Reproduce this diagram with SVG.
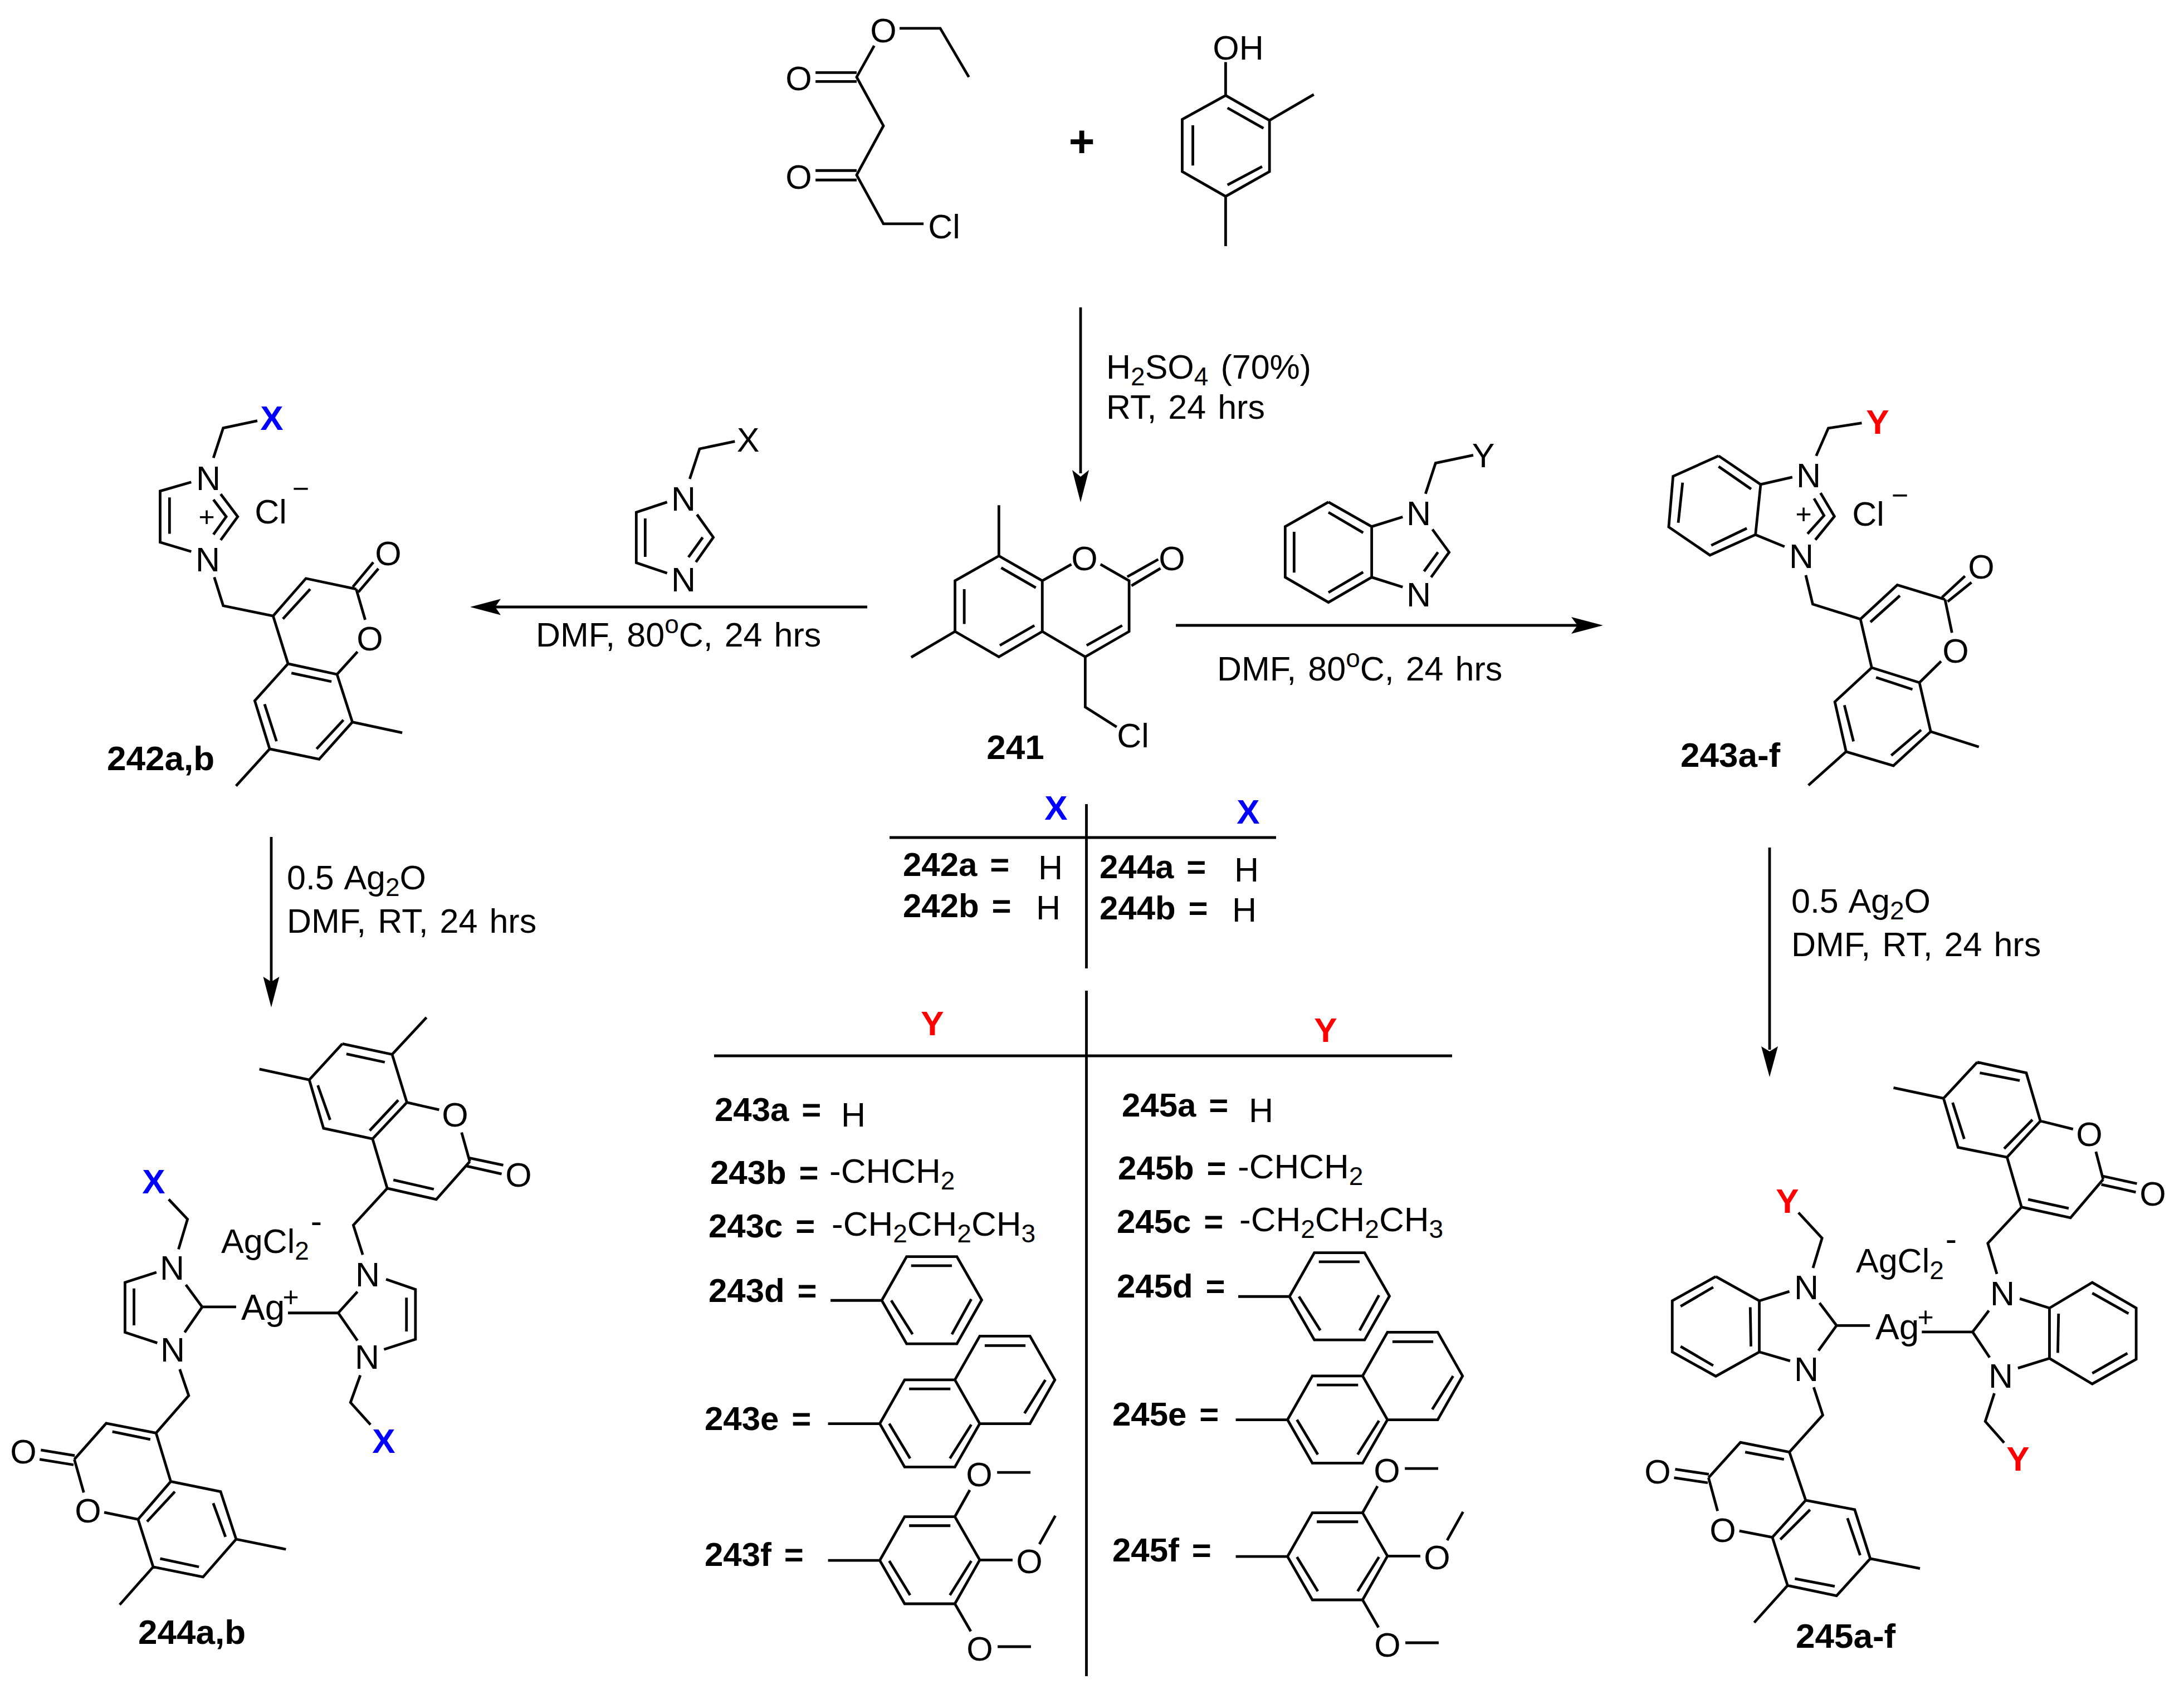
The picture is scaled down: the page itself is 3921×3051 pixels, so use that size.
<svg xmlns="http://www.w3.org/2000/svg" width="3921" height="3051" viewBox="0 0 3921 3051">
<style>
text{font-family:"Liberation Sans",Arial,sans-serif;font-size:61px;fill:#000}
.a{text-anchor:middle}
.t{word-spacing:4px}
.k{font-size:62px}
.l{font-weight:bold;font-size:62px}
.q{font-weight:bold;font-size:60px;word-spacing:6px}
.x{font-weight:bold;font-size:62px;text-anchor:middle;fill:#00f}
.y{font-weight:bold;font-size:62px;text-anchor:middle;fill:#f00}
.s{font-size:46px}
.c{font-size:50px;text-anchor:middle}
.m{font-size:52px;text-anchor:middle}
path{fill:none;stroke:#000;stroke-width:4.8;stroke-linejoin:miter;stroke-linecap:butt;vector-effect:non-scaling-stroke}
.h{fill:#000;stroke:none}
</style>
<rect width="3921" height="3051" fill="#fff"/>
<defs>
<g id="ph"><path transform="translate(1250,1780) scale(.8929,.8106)" d="M270 685H373L423 588H524L574 684L524 781H423L373 685M432 608H514M553 682L514 760M392 685L435 760"/></g>
<g id="na"><path transform="translate(1250,1780) scale(.8929,.8106)" d="M265 958H369L419 861H520L570 958L520 1054H419L369 958M520 861L570 764H671L721 861L671 958H570M428 881H511M553 960L510 1035M388 958L430 1035M580 785H662M702 861L660 935"/></g>
<g id="tm"><path transform="translate(1250,1780) scale(.8929,.8106)" d="M265 1261H369L419 1164H520L570 1260L520 1357H419L369 1261M428 1184H511M553 1262L510 1338M388 1262L430 1338M520 1164L550 1105M605 1066H672M570 1260H636M690 1225L722 1162M520 1357L552 1418M606 1452H673"/>
<text class="a" x="1758" y="2669">O</text><text class="a" x="1848" y="2825">O</text><text class="a" x="1759" y="2982">O</text></g>
</defs>

<g id="connectors">
<path d="M1940 552V850"/><polygon class="h" points="1940,902 1925,844 1940,856 1955,844"/>
<path d="M1557 1090H880"/><polygon class="h" points="844,1090 899,1075.5 889,1090 899,1104.500"/>
<path d="M2111 1123H2840"/><polygon class="h" points="2878,1123 2821,1108 2832,1123 2821,1138"/>
<path d="M487 1503V1770"/><polygon class="h" points="487,1809 472.500,1754 487,1763 501.500,1754"/>
<path d="M3177 1522V1885"/><polygon class="h" points="3177,1934 3162,1879 3177,1888 3192,1879"/>
</g>

<g id="reactant-ester">
<path transform="translate(1300,0) scale(.8291,.8929)" d="M380 57H468L530 155M325 92L287 155L345 253L287 352L345 450H432M198 146H287M198 164H287M198 343H287M198 362H287"/>
<text class="a" x="1586" y="76">O</text><text class="a" x="1434" y="162">O</text><text class="a" x="1434" y="339">O</text><text class="a" x="1695" y="428">Cl</text>
</g>
<g id="plus"><text class="a" x="1942" y="281" style="font-size:80px;font-weight:bold">+</text></g>
<g id="reactant-cresol">
<path transform="translate(1300,0) scale(.8291,.8929)" d="M1086 192L1181 242V345L1086 395L992 345V240L1086 192M1086 192V125M1181 242L1277 190M1086 395V495M1090 217L1168 258M1015 252V333M1090 372L1165 335"/>
<text class="a" x="2223" y="107">OH</text>
</g>
<g id="reagent-top">
<text class="t" x="1986" y="680">H<tspan class="s" dy="12">2</tspan><tspan dy="-12">SO</tspan><tspan class="s" dy="12">4</tspan><tspan dy="-12" dx="22">(70%)</tspan></text>
<text class="t" x="1986" y="752">RT, 24 hrs</text>
</g>

<g id="c241">
<path transform="translate(1300,0) scale(.8291,.8929)" d="M595 1118L689 1168V1270L595 1321L500 1270V1168L595 1118M595 1118V1016M500 1270L405 1322M600 1142L675 1182M520 1185V1255M597 1298L672 1258M689 1168L752 1135M815 1135L877 1168V1270L782 1321L689 1270M873 1160L940 1125M882 1178L945 1143M785 1298L862 1258M782 1321V1422L850 1462"/>
<text class="a" x="1947" y="1024">O</text><text class="a" x="2104" y="1024">O</text><text class="a" x="2034" y="1342">Cl</text>
<text class="a l" x="1833" y="1363" dx="-10">241</text>
</g>

<g id="reagent-imidazole">
<path transform="translate(1050,720) scale(.3333)" d="M565 420L618 258L808 218M443 545L277 600V872L443 928M325 633V840M604 612L692 735L598 868M635 735L558 842"/>
<text class="a" x="1343" y="811">X</text><text class="a" x="1227" y="917">N</text><text class="a" x="1227" y="1062">N</text>
<text class="t" x="962" y="1161">DMF, 80<tspan dy="-24" style="font-size:46px">o</tspan><tspan dy="24">C, 24 hrs</tspan></text>
</g>

<g id="reagent-benzimidazole">
<path transform="translate(2250,760) scale(.3333)" d="M928 380L982 215L1185 172M405 425L638 557V830L405 965L172 830V557L405 425M405 480L592 590M220 585V805M405 912L592 802M638 557L805 505M638 830L805 883M965 572L1055 695L958 830M995 695L920 798"/>
<text class="a" x="2663" y="839">Y</text><text class="a" x="2547" y="943">N</text><text class="a" x="2547" y="1089">N</text>
<text class="t" x="2185" y="1222">DMF, 80<tspan dy="-24" style="font-size:46px">o</tspan><tspan dy="24">C, 24 hrs</tspan></text>
</g>

<g id="c242">
<path transform="translate(100,650) scale(.7653)" d="M370 225L393 155L473 138M318 282L245 303V423L318 445M267 318V403M387 310L427 363L387 418M370 323L400 363L370 405M372 505L393 572L510 596L587 508L705 533M533 603L597 533M697 528L745 470M710 540L757 485M705 533L726 605M708 680L660 733M510 596L545 708L660 733L696 845L618 932L502 908L467 795L545 708M553 730L647 750M675 840L612 908M490 803L518 890M696 845L813 870M502 908L423 995"/>
<text class="x" x="488" y="772">X</text><text class="a" x="374" y="880">N</text><text class="a" x="373" y="1026">N</text>
<text class="c" x="371" y="945">+</text><text class="a" x="486" y="940">Cl</text><text class="m" x="540" y="895">−</text>
<text class="a" x="697" y="1015">O</text><text class="a" x="664" y="1168">O</text>
<text class="l" x="192" y="1383">242a,b</text>
<text class="t" x="515" y="1597">0.5 Ag<tspan class="s" dy="12">2</tspan><tspan dy="-12">O</tspan></text>
<text class="t" x="515" y="1675">DMF, RT, 24 hrs</text>
</g>

<g id="c243">
<path transform="translate(2700,700) scale(.7787,.7653)" d="M720 155L748 90L825 78M495 155L592 222L580 340L475 388L380 322L390 203L495 155M495 180L570 233M412 218L402 312M478 365L560 325M592 222L665 205M580 340L647 368M730 242L762 297L718 352M715 255L738 295L700 338M696 435L712 503L822 538L907 458L1017 492M845 545L913 483M1010 487L1063 437M1023 497L1078 452M1017 492L1033 570M1008 637L958 687M822 538L848 652L958 687L984 802L898 882L789 849L763 732L848 652M858 675L942 703M962 798L893 858M785 740L806 825M984 802L1095 838M789 849L702 928"/>
<text class="y" x="3371" y="779">Y</text><text class="a" x="3247" y="875">N</text><text class="a" x="3234" y="1020">N</text>
<text class="c" x="3238" y="940">+</text><text class="a" x="3354" y="944">Cl</text><text class="m" x="3411" y="907">−</text>
<text class="a" x="3557" y="1039">O</text><text class="a" x="3511" y="1190">O</text>
<text class="l" x="3017" y="1377">243a-f</text>
<text class="t" x="3216" y="1639">0.5 Ag<tspan class="s" dy="12">2</tspan><tspan dy="-12">O</tspan></text>
<text class="t" x="3216" y="1717">DMF, RT, 24 hrs</text>
</g>

<g id="table-x">
<path d="M1597 1504H2291M1950.500 1444V1739"/>
<text class="x" x="1896" y="1472">X</text><text class="x" x="2241" y="1479">X</text>
<text class="q" x="1621" y="1573">242a =</text><text x="1864" y="1579">H</text>
<text class="q" x="1621" y="1647">242b =</text><text x="1860" y="1651">H</text>
<text class="q" x="1974" y="1577">244a =</text><text x="2216" y="1583">H</text>
<text class="q" x="1974" y="1651">244b =</text><text x="2212" y="1655">H</text>
</g>

<g id="table-y">
<path d="M1950.500 1779V3010M1282 1896H2607"/>
<text class="y" x="1674" y="1859">Y</text><text class="y" x="2380" y="1871">Y</text>
<text class="q" x="1283" y="2013">243a =</text><text x="1510" y="2023">H</text>
<text class="q" x="1275" y="2126">243b =</text><text class="k" x="1489" y="2124">-CHCH<tspan class="s" dy="12">2</tspan></text>
<text class="q" x="1272" y="2222">243c =</text><text class="k" x="1493" y="2219">-CH<tspan class="s" dy="12">2</tspan><tspan dy="-12">CH</tspan><tspan class="s" dy="12">2</tspan><tspan dy="-12">CH</tspan><tspan class="s" dy="12">3</tspan></text>
<text class="q" x="1272" y="2338">243d =</text>
<text class="q" x="1265" y="2568">243e =</text>
<text class="q" x="1265" y="2812">243f =</text>
<use href="#ph"/><use href="#na"/><use href="#tm"/>
<text class="q" x="2014" y="2005">245a =</text><text x="2242" y="2015">H</text>
<text class="q" x="2007" y="2118">245b =</text><text class="k" x="2222" y="2116">-CHCH<tspan class="s" dy="12">2</tspan></text>
<text class="q" x="2005" y="2214">245c =</text><text class="k" x="2225" y="2211">-CH<tspan class="s" dy="12">2</tspan><tspan dy="-12">CH</tspan><tspan class="s" dy="12">2</tspan><tspan dy="-12">CH</tspan><tspan class="s" dy="12">3</tspan></text>
<text class="q" x="2005" y="2330">245d =</text>
<text class="q" x="1997" y="2560">245e =</text>
<text class="q" x="1997" y="2804">245f =</text>
<use href="#ph" x="732" y="-7"/><use href="#na" x="732" y="-7"/><use href="#tm" x="732" y="-7"/>
</g>

<g id="c244">
<path transform="translate(0,1750) scale(.7334,.8291)" d="M838 150L960 173L996 277L912 356L792 333L757 228L838 150M960 173L1044 93M757 228L635 205M848 172L942 190M778 240L808 315M905 338L975 272M996 277L1075 293M1130 342L1150 405M1147 397L1232 413M1143 415L1228 432M1150 405L1068 487L948 463L912 356M963 445L1062 465M948 463L865 543L888 607M945 660L1017 682V790L940 812M995 700V773M875 687L828 733L875 793M705 733H828M882 868L858 927L907 975M413 487L459 530L437 595M383 645L306 667V775L385 798M328 680V760M455 672L495 720L452 775M495 720H578M440 855L462 912L382 993L260 972L182 1050M275 990L368 1007M183 1042L100 1030M180 1062L97 1050M182 1050L205 1122M255 1165L338 1180M382 993L418 1098L338 1180L375 1283L497 1305L578 1223L540 1120L418 1098M428 1120L360 1185M392 1265L487 1283M552 1218L522 1145M578 1223L700 1245M375 1283L293 1365"/>
<text class="a" x="817" y="2023">O</text><text class="a" x="931" y="2131">O</text><text class="a" x="660" y="2310">N</text><text class="a" x="659" y="2458">N</text>
<text class="x" x="689" y="2609">X</text><text class="x" x="276" y="2143">X</text>
<text class="a" x="309" y="2298">N</text><text class="a" x="310" y="2445">N</text><text class="a" x="42" y="2628">O</text><text class="a" x="158" y="2734">O</text>
<text x="433" y="2370" style="font-size:64px">Ag</text><text class="c" x="522" y="2346">+</text>
<text x="397" y="2250">AgCl<tspan class="s" dy="12">2</tspan></text><text class="a" x="568" y="2214">-</text>
<text class="l" x="248" y="2952">244a,b</text>
</g>

<g id="c245">
<path transform="translate(2900,1850) scale(.6512,.7653)" d="M998 75L1133 100L1172 213L1080 298L945 275L905 160L998 75M905 160L767 135M1005 100L1115 118M930 170L962 255M1072 278L1150 210M1172 213L1262 232M1325 285L1345 350M1342 342L1438 360M1340 362L1435 380M1345 350L1255 440L1120 415L1080 298M1138 397L1250 418M1120 415L1027 500L1052 572M1115 630L1197 652L1315 592L1436 652V772L1315 830L1197 770V652M1222 665L1220 757M1315 617L1415 665M1315 805L1412 758M1197 770L1110 793M1030 658L985 708L1032 768M845 708H985M1045 852L1020 918L1072 968M505 428L570 488L545 558M277 578L397 635V755L277 812L157 755V635L277 578M372 650L374 742M270 603L180 648M180 742L270 787M397 635L480 613M397 755L482 776M563 640L610 693L560 752M610 693H702M547 838L572 903L480 990L345 967L257 1050M358 990L465 1007M258 1042L165 1030M255 1062L162 1050M257 1050L282 1128M342 1175L433 1190M480 990L525 1103L433 1190L475 1303L610 1327L703 1240L660 1125L525 1103M537 1125L455 1195M495 1287L605 1305M675 1232L640 1145M703 1240L840 1263M475 1303L383 1390"/>
<text class="a" x="3751" y="2058">O</text><text class="a" x="3865" y="2165">O</text><text class="a" x="3595" y="2344">N</text><text class="a" x="3592" y="2492">N</text>
<text class="y" x="3623" y="2641">Y</text><text class="y" x="3209" y="2178">Y</text>
<text class="a" x="3243" y="2333">N</text><text class="a" x="3243" y="2480">N</text><text class="a" x="2976" y="2664">O</text><text class="a" x="3093" y="2769">O</text>
<text x="3367" y="2405" style="font-size:64px">Ag</text><text class="c" x="3457" y="2382">+</text>
<text x="3332" y="2285">AgCl<tspan class="s" dy="12">2</tspan></text><text class="a" x="3503" y="2246">-</text>
<text class="l" x="3224" y="2959">245a-f</text>
</g>
</svg>
